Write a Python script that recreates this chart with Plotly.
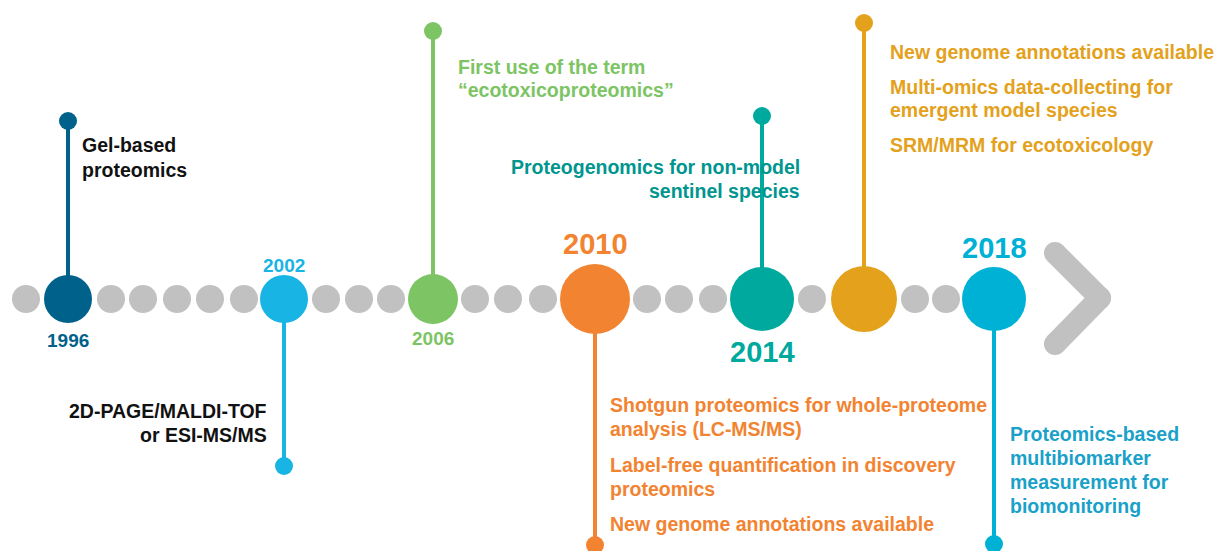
import plotly.graph_objects as go

# ---------------- data ----------------
# positions along the timeline (horizontal px units of the drawing), baseline at y=299
grey_dot_x = [26, 111, 143, 177, 210, 244, 326, 359, 391, 475, 508, 543, 647, 679, 713, 812, 915, 946]
event_labels = ["1996", "2002", "2006", "2010", "2014", "", "2018"]
event_x = [68, 284, 433, 595, 762, 864, 994]
event_size = [48, 48, 50, 70, 64, 66, 64]
event_colors = ["#00628b", "#18b4e4", "#7cc464", "#f28331", "#00a99e", "#e3a11c", "#00b1d6"]
stem_end_y = [121, 466, 31, 545, 116, 23, 544]
year_label_y = [340, 265, 338, 244, 352, None, 248]
year_label_size = [19, 19, 19, 29, 29, 0, 29]

# text blocks: (event index, x, anchor, lines with y, colour)
texts = [
    (0, 80, "left", [("Gel-based", 145), ("proteomics", 170)], "#111111"),
    (1, 269, "right", [("2D-PAGE/MALDI-TOF", 411), ("or ESI-MS/MS", 435)], "#111111"),
    (2, 456, "left", [("First use of the term", 67), ("“ecotoxicoproteomics”", 90)], "#7cc464"),
    (4, 802, "right", [("Proteogenomics for non-model", 167), ("sentinel species", 191)], "#00968f"),
    (5, 888, "left", [("New genome annotations available", 52),
                      ("Multi-omics data-collecting for", 87),
                      ("emergent model species", 110),
                      ("SRM/MRM for ecotoxicology", 145)], "#e3a11c"),
    (3, 608, "left", [("Shotgun proteomics for whole-proteome", 405),
                      ("analysis (LC-MS/MS)", 429),
                      ("Label-free quantification in discovery", 465),
                      ("proteomics", 489),
                      ("New genome annotations available", 524)], "#f28331"),
    (6, 1008, "left", [("Proteomics-based", 434), ("multibiomarker", 458),
                       ("measurement for", 482), ("biomonitoring", 506)], "#1aa1c9"),
]
chevron_x = [1055, 1100, None, 1100, 1055]
chevron_y = [253, 298, None, 298, 344]
BASE_Y = 299
GREY = "#c0c1c0"
PAGE_OFFSET = 8  # default body margin of the html page

fig = go.Figure()

# stems
for x, y2, c in zip(event_x, stem_end_y, event_colors):
    fig.add_trace(go.Scatter(x=[x, x], y=[BASE_Y, y2], mode="lines",
                             line=dict(color=c, width=4), hoverinfo="skip"))
# stem end dots
fig.add_trace(go.Scatter(x=event_x, y=stem_end_y, mode="markers",
                         marker=dict(size=18, color=event_colors, opacity=1, line=dict(width=0)),
                         hoverinfo="skip"))
# grey dots
fig.add_trace(go.Scatter(x=grey_dot_x, y=[BASE_Y] * len(grey_dot_x), mode="markers",
                         marker=dict(size=28, color=GREY, opacity=1, line=dict(width=0)),
                         hoverinfo="skip"))
# chevron (two strokes with rounded ends/join)
fig.add_trace(go.Scatter(x=chevron_x, y=chevron_y, mode="lines+markers",
                         line=dict(color=GREY, width=22),
                         marker=dict(size=22, color=GREY, opacity=1, line=dict(width=0)),
                         connectgaps=False, hoverinfo="skip"))
# event circles
fig.add_trace(go.Scatter(x=event_x, y=[BASE_Y] * len(event_x), mode="markers",
                         marker=dict(size=event_size, color=event_colors, opacity=1,
                                     line=dict(width=0)),
                         hoverinfo="skip"))

FONT = "Liberation Sans, Arial, sans-serif"
for lbl, x, y, s, c in zip(event_labels, event_x, year_label_y, year_label_size, event_colors):
    if not lbl:
        continue
    fig.add_annotation(x=x, y=y, text=f"<b>{lbl}</b>", showarrow=False,
                       xanchor="center", yanchor="middle",
                       font=dict(family=FONT, size=s, color=c))

for idx, x, anchor, lines, c in texts:
    for t, y in lines:
        fig.add_annotation(x=x, y=y, text=f"<b>{t}</b>", showarrow=False,
                           xanchor=anchor, yanchor="middle",
                           font=dict(family=FONT, size=19.5, color=c))

fig.update_layout(
    width=1223 - PAGE_OFFSET, height=551 - PAGE_OFFSET,
    margin=dict(l=0, r=0, t=0, b=0),
    paper_bgcolor="white", plot_bgcolor="white",
    showlegend=False,
    xaxis=dict(range=[PAGE_OFFSET, 1223], visible=False, fixedrange=True),
    yaxis=dict(range=[551, PAGE_OFFSET], visible=False, fixedrange=True),
)
fig.write_html("out.html")
